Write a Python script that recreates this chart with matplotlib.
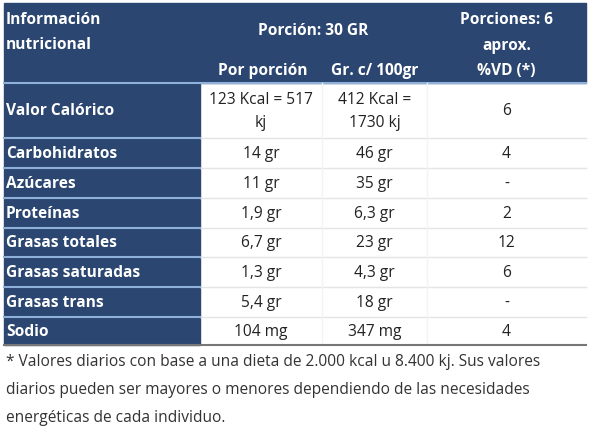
import matplotlib.pyplot as plt
from matplotlib.patches import Rectangle

plt.rcParams['font.family'] = ['Open Sans', 'DejaVu Sans']

nutrients = ["Valor Calórico", "Carbohidratos", "Azúcares", "Proteínas",
             "Grasas totales", "Grasas saturadas", "Grasas trans", "Sodio"]
por_porcion = ["123 Kcal = 517\nkj", "14 gr", "11 gr", "1,9 gr", "6,7 gr", "1,3 gr", "5,4 gr", "104 mg"]
por_100 = ["412 Kcal =\n1730 kj", "46 gr", "35 gr", "6,3 gr", "23 gr", "4,3 gr", "18 gr", "347 mg"]
vd = ["6", "4", "-", "2", "12", "6", "-", "4"]
footnote = ["* Valores diarios con base a una dieta de 2.000 kcal u 8.400 kj. Sus valores",
            "diarios pueden ser mayores o menores dependiendo de las necesidades",
            "energéticas de cada individuo."]

W, H = 590, 439
BLUE = "#2b4670"
fig = plt.figure(figsize=(W / 100, H / 100), dpi=100)
ax = fig.add_axes([0, 0, 1, 1])
ax.set_xlim(0, W)
ax.set_ylim(H, 0)
ax.axis("off")

left, c1, c2, c3, right = 4, 200, 322, 427, 586
row_edges = [84, 139, 169, 199, 229, 258, 288, 318, 346]

# header block
ax.add_patch(Rectangle((left, 4), right - left, 80, color=BLUE))
hw = dict(color="white", fontweight="bold", fontsize=11.2)
ax.text(6, 20, "Información", va="center", ha="left", **hw)
ax.text(6, 45, "nutricional", va="center", ha="left", **hw)
ax.text((c1 + c3) / 2, 31, "Porción: 30 GR", va="center", ha="center", **hw)
ax.text((c3 + right) / 2, 20, "Porciones: 6", va="center", ha="center", **hw)
ax.text((c3 + right) / 2, 46, "aprox.", va="center", ha="center", **hw)
ax.text((c3 + right) / 2, 71, "%VD (*)", va="center", ha="center", **hw)
ax.text((c1 + c2) / 2 + 2, 71, "Por porción", va="center", ha="center", **hw)
ax.text((c2 + c3) / 2, 71, "Gr. c/ 100gr", va="center", ha="center", **hw)
ax.plot([left, right], [84, 84], color="#8fb0d8", lw=1.5)

for i, name in enumerate(nutrients):
    y0, y1 = row_edges[i], row_edges[i + 1]
    ym = (y0 + y1) / 2
    ax.add_patch(Rectangle((left, y0 + 1), c1 - left, y1 - y0 - 1, color=BLUE))
    ax.text(6, ym, name, va="center", ha="left", **hw)
    kw = dict(va="center", ha="center", fontsize=11.2, color="#222222", linespacing=1.6)
    ax.text((c1 + c2) / 2, ym, por_porcion[i], **kw)
    ax.text((c2 + c3) / 2, ym, por_100[i], **kw)
    ax.text((c3 + right) / 2, ym, vd[i], **kw)
    if i < len(nutrients) - 1:
        ax.plot([c1, right], [y1, y1], color="#e4e4e4", lw=1)
        ax.plot([left, c1], [y1, y1], color="#8fb0d8", lw=1.5)

for x in (c2, c3):
    ax.plot([x, x], [84, 346], color="#f3f3f3", lw=1)
ax.plot([left, right], [346, 346], color="#777777", lw=1.5)

for j, line in enumerate(footnote):
    ax.text(6, 362 + j * 28, line, va="center", ha="left", fontsize=11.2, color="#333333")

fig.savefig("out.png", dpi=100)
